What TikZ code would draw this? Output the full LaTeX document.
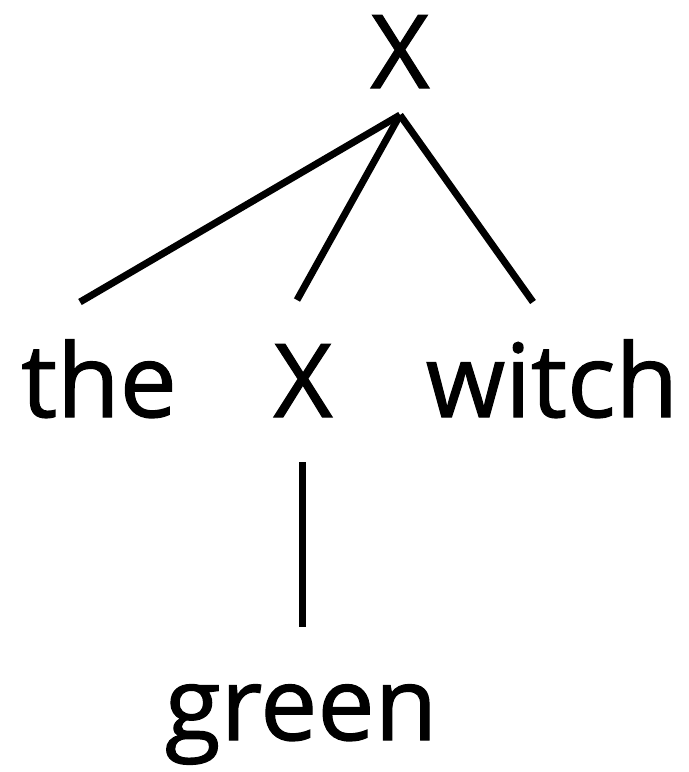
\documentclass[tikz,border=0pt]{standalone}
\usepackage{fontspec}
\setmainfont{Open Sans}
\usetikzlibrary{positioning}
\newfontfamily\treefont[FakeBold=1.2]{Open Sans}
\tikzset{
  % words of the tree
  word/.style={font=\treefont\fontsize{51}{60}\selectfont,anchor=base,inner sep=0pt},
  % branches
  branch/.style={line width=3.5pt,black,line cap=butt}
}

\begin{document}
\begin{tikzpicture}[x=0.5pt,y=-0.5pt]
  \useasboundingbox (0,0) rectangle (689,772);

  % Nodes
  \node[word] (root)  at (400,88)  {X};
  \node[word] (the)   at (99,417)  {the};
  \node[word] (mid)   at (303,417) {X};
  \node[word] (witch) at (552,417) {witch};
  \node[word] (green) at (301,740) {green};

  % Branch ends
  \coordinate (fork)     at (400,115);
  \coordinate (thetop)   at (80,302);
  \coordinate (midtop)   at (297,300);
  \coordinate (witchtop) at (533,302);
  \coordinate (midfoot)  at (302,462);
  \coordinate (greentop) at (302,627);

  % Branches
  \draw[branch] (fork) -- (thetop);
  \draw[branch] (fork) -- (midtop);
  \draw[branch] (fork) -- (witchtop);
  \draw[branch] (midfoot) -- (greentop);
\end{tikzpicture}
\end{document}
